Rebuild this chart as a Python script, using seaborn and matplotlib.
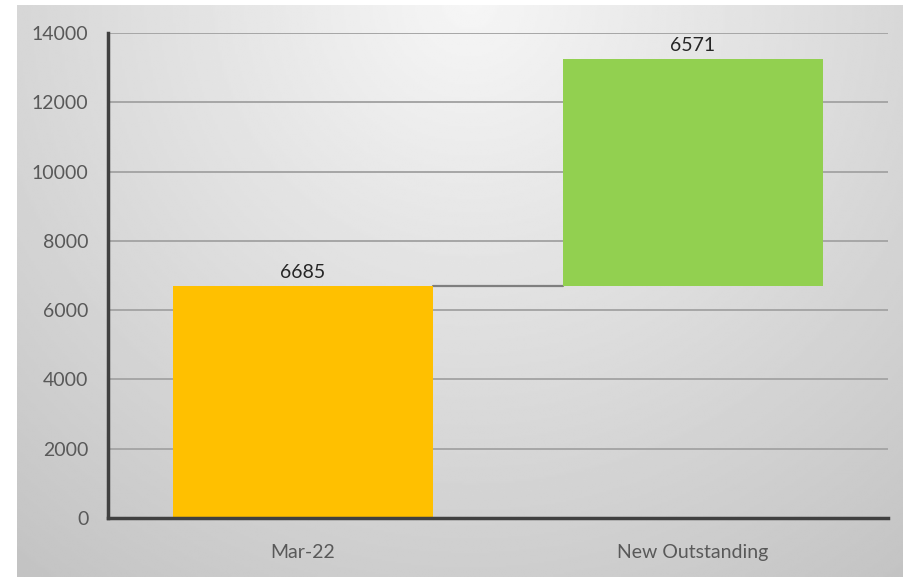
import numpy as np
import seaborn as sns
import matplotlib.pyplot as plt

# waterfall data
categories = ["Mar-22", "New Outstanding"]
increments = [6685, 6571]
bar_colors = ["#ffc000", "#92d050"]
y_ticks = [0, 2000, 4000, 6000, 8000, 10000, 12000, 14000]

bases = np.concatenate([[0], np.cumsum(increments)[:-1]])

sns.set_style("white")
plt.rcParams["font.family"] = ["Lato", "DejaVu Sans"]
text_col = "#595959"

fig = plt.figure(figsize=(9.04, 5.77), dpi=100, facecolor="white")

# gray radial gradient background (leaves thin white strip left/top)
bg = fig.add_axes([17 / 904, 0, 1 - 17 / 904, 1 - 5 / 577], zorder=0)
gx, gy = np.meshgrid(np.linspace(17, 904, 400), np.linspace(5, 577, 300))
dist = np.sqrt((gx - 470) ** 2 + (gy - 0) ** 2)
shade = np.clip(246 - dist / 600 * 42, 192, 246) / 255
bg.imshow(shade, cmap="gray", vmin=0, vmax=1, aspect="auto", interpolation="bilinear")
bg.axis("off")

ax = fig.add_axes([108 / 904, 1 - 518 / 577, 780 / 904, 485 / 577], zorder=1)
ax.set_facecolor("none")

sns.barplot(x=categories, y=increments, hue=categories, palette=bar_colors,
            width=0.665, legend=False, saturation=1, linewidth=0,
            ax=ax, zorder=3)

# lift bars onto their running base
for p, b, v in zip(ax.patches, bases, increments):
    p.set_y(b)
    ax.text(p.get_x() + p.get_width() / 2, b + v + 150, str(v),
            ha="center", va="bottom", fontsize=14, color="#262626", zorder=4)

# connector between the bars
p0, p1 = ax.patches[0], ax.patches[1]
ax.plot([p0.get_x() + p0.get_width(), p1.get_x()], [bases[1], bases[1]],
        color="#7f7f7f", lw=1.6, zorder=2)

ax.set_ylim(0, 14000)
ax.set_xlim(-0.5, 1.5)
ax.set_yticks(y_ticks)
ax.set_yticklabels([str(t) for t in y_ticks])
ax.yaxis.grid(True, color="#a6a6a6", lw=1.4)
ax.set_axisbelow(True)
ax.tick_params(axis="both", length=0, labelsize=14, labelcolor=text_col)
ax.tick_params(axis="y", pad=14)
ax.tick_params(axis="x", pad=19)
ax.set_xlabel("")
ax.set_ylabel("")

for s in ["top", "right"]:
    ax.spines[s].set_visible(False)
for s in ["left", "bottom"]:
    ax.spines[s].set_color("#404040")
    ax.spines[s].set_linewidth(2.5)
    ax.spines[s].set_zorder(5)

fig.savefig("out.png", dpi=100)
